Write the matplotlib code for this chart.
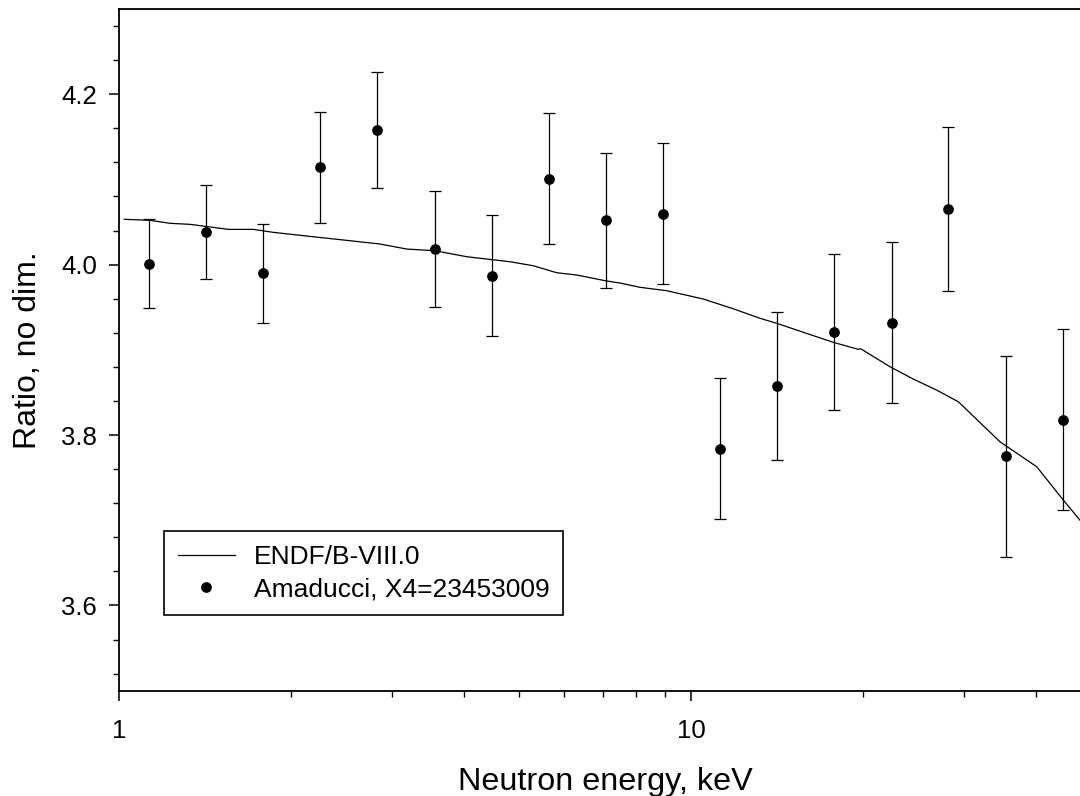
import matplotlib
matplotlib.use("Agg")
import matplotlib.pyplot as plt
from matplotlib.ticker import FixedLocator, NullFormatter, MultipleLocator, FixedFormatter

plt.rcParams['font.family'] = ['Liberation Sans', 'DejaVu Sans']

# ENDF/B-VIII.0 evaluated curve
endf_energy = [1.020, 1.132, 1.226, 1.329, 1.551, 1.715, 1.859, 2.184, 2.498, 2.856,
               3.180, 3.565, 4.049, 4.820, 5.294, 5.817, 6.305, 7.113, 7.506, 8.135,
               9.057, 10.50, 11.84, 13.19, 14.11, 17.71, 19.59, 19.78, 22.25, 24.44,
               26.85, 29.30, 34.65, 40.17, 44.71, 47.8]
endf_ratio = [4.0532, 4.0520, 4.0485, 4.0473, 4.0414, 4.0414, 4.0379, 4.0327, 4.0285, 4.0242,
              4.0183, 4.0163, 4.0093, 4.0034, 3.9987, 3.9905, 3.9878, 3.9808, 3.9784, 3.9734,
              3.9694, 3.9596, 3.9482, 3.9370, 3.9311, 3.9088, 3.9006, 3.9013, 3.8802, 3.8657,
              3.8528, 3.8391, 3.7921, 3.7628, 3.7237, 3.7002]

# Amaducci, X4=23453009
exp_energy = [1.127, 1.418, 1.785, 2.246, 2.825, 3.565, 4.483, 5.638, 7.10, 8.93,
              11.24, 14.14, 17.78, 22.40, 28.10, 35.50, 44.70]
exp_ratio = [4.001, 4.038, 3.990, 4.114, 4.158, 4.018, 3.987, 4.101, 4.052, 4.060,
             3.784, 3.858, 3.921, 3.932, 4.065, 3.775, 3.818]
exp_err = [0.052, 0.055, 0.058, 0.065, 0.068, 0.068, 0.071, 0.077, 0.079, 0.083,
           0.083, 0.087, 0.092, 0.094, 0.096, 0.118, 0.106]

x_major = [1, 10]
x_major_labels = ["1", "10"]
y_major = [3.6, 3.8, 4.0, 4.2]

W, H = 1080, 796
fig = plt.figure(figsize=(W / 100, H / 100), dpi=100)
left_px, right_px, top_px, bot_px = 119.3, 1091.1, 9.0, 690.7
ax = fig.add_axes([left_px / W, 1 - bot_px / H, (right_px - left_px) / W, (bot_px - top_px) / H])

ax.plot(endf_energy, endf_ratio, color='black', lw=0.9, label='ENDF/B-VIII.0')
ax.errorbar(exp_energy, exp_ratio, yerr=exp_err, fmt='none', ecolor='black',
            elinewidth=0.9, capsize=4, capthick=0.9)
ax.plot(exp_energy, exp_ratio, 'o', color='black', ms=6.7, mec='black',
        label='Amaducci, X4=23453009')

ax.set_xscale('log')
ax.set_xlim(1, 50)
ax.set_ylim(3.5, 4.3)

ax.xaxis.set_major_locator(FixedLocator(x_major))
ax.xaxis.set_major_formatter(FixedFormatter(x_major_labels))
ax.xaxis.set_minor_locator(FixedLocator([2, 3, 4, 5, 6, 7, 8, 9, 20, 30, 40]))
ax.xaxis.set_minor_formatter(NullFormatter())
ax.yaxis.set_major_locator(FixedLocator(y_major))
ax.yaxis.set_major_formatter(FixedFormatter([f"{v:.1f}" for v in y_major]))
ax.yaxis.set_minor_locator(MultipleLocator(0.04))

for s in ax.spines.values():
    s.set_linewidth(1.3)
ax.tick_params(axis='both', which='major', direction='out', length=7, width=1.1,
               labelsize=18.5, colors='black')
ax.tick_params(axis='both', which='minor', direction='out', length=4.3, width=1.0)
ax.tick_params(axis='x', which='major', pad=13.5)
ax.tick_params(axis='y', which='major', pad=9)

fig.text(605 / W, 1 - 790 / H, "Neutron energy, keV", ha='center', va='baseline', fontsize=23.3)
fig.text(28 / W, 1 - 350.5 / H, "Ratio, no dim.", ha='center', va='center', rotation=90, fontsize=23)

leg = ax.legend(loc='upper left', bbox_to_anchor=(164 / W, 1 - 531 / H),
                bbox_transform=fig.transFigure, borderaxespad=0, fontsize=19,
                frameon=True, fancybox=False, framealpha=1, edgecolor='black',
                handlelength=2.15, handletextpad=0.72, borderpad=0.53, labelspacing=0.31)
leg.get_frame().set_linewidth(1.2)

fig.savefig("out.png", dpi=100)
